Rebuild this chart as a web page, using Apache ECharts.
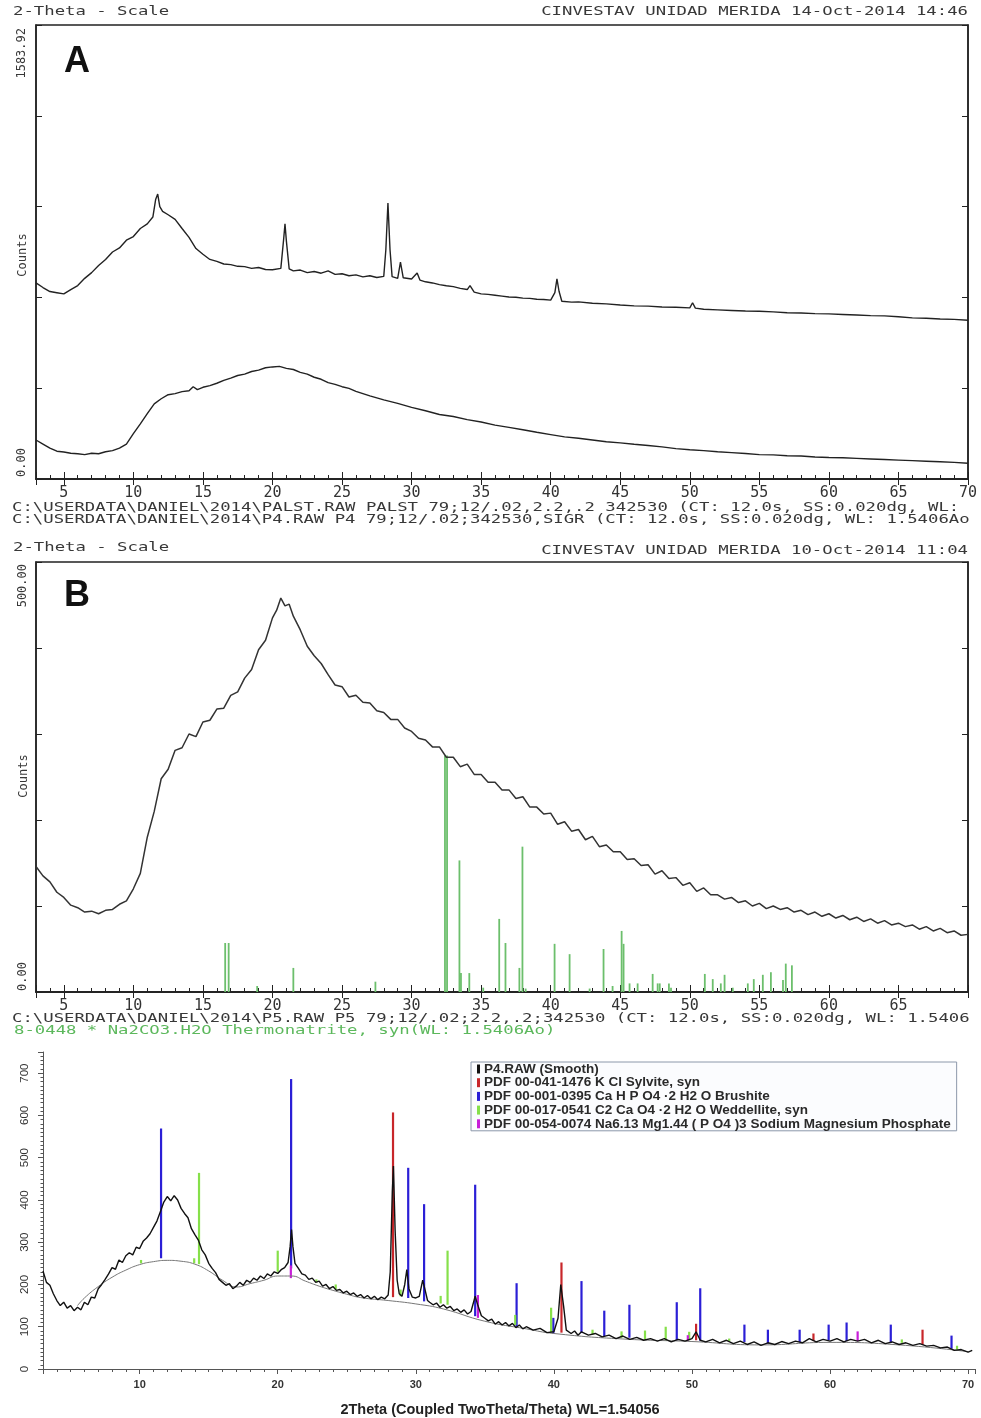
<!DOCTYPE html>
<html>
<head>
<meta charset="utf-8">
<script src="https://cdn.jsdelivr.net/npm/echarts/dist/echarts.min.js"></script>
<style>
  html, body { margin: 0; padding: 0; background: #fff; }
  #chart { width: 981px; height: 1418px; }
</style>
</head>
<body>
<div id="chart"></div>
<script>
// panel A: two raw scans, [2theta, counts]
var palstScan = [[3,684],[3.5,668],[4,654],[4.5,650],[5,646],[5.5,661],[6,675],[6.5,700],[7,720],[7.5,745],[8,766],[8.5,792],[9,806],[9.5,833],[10,846],[10.5,874],[11,890],
  [11.4,914],[11.6,975],[11.75,994],[11.9,950],[12.1,934],[12.5,922],[13,906],[13.5,874],[14,843],[14.5,804],[15,784],[15.5,766],[16,759],[16.5,750],[17,748],[17.5,742],[18,741],[18.5,735],[19,738],[19.5,731],[20,730],
  [20.6,735],[20.8,835],[20.9,890],[21.0,830],[21.2,733],[21.5,726],[22,729],[22.5,720],[23,724],[23.5,718],[24,726],[24.5,714],[25,716],[25.5,709],[26,712],[26.5,705],[27,709],[27.5,703],[28,707],
  [28.15,800],[28.3,963],[28.45,800],[28.6,706],[29,700],[29.2,757],[29.4,702],[30,698],[30.4,719],[30.6,694],[31,688],[31.5,684],[32,678],[32.5,674],[33,671],[33.5,665],[34,661],[34.2,675],
  [34.5,652],[35,646],[35.5,644],[36,641],[36.5,638],[37,635],[37.5,634],[38,631],[38.5,630],[39,627],[39.5,626],[40,624],[40.3,650],[40.45,698],[40.6,655],[40.8,620],[41.5,617],
  [42,618],[43,613],[44,611],[45,607],[46,604],[47,603],[48,600],[49,599],[50,597],[50.2,615],[50.4,596],[51,592],[52,590],[53,588],[54,586],[55,585],[56,583],[57,580],[58,579],[59,577],
  [60,576],[61,574],[62,572],[63,570],[64,569],[65,566],[66,562],[67,561],[68,558],[69,557],[70,554]];

var p4Scan = [[3,136],[3.5,122],[4,108],[4.5,97],[5,94],[5.5,90],[6,88],[6.5,85],[7,90],[7.5,88],[8,95],[8.5,99],[9,108],[9.5,122],[10,158],[10.5,192],[11,228],[11.5,262],[12,280],[12.5,294],[13,298],[13.5,305],[14,308],
  [14.3,322],[14.6,312],[15,320],[15.5,326],[16,334],[16.5,344],[17,352],[17.5,361],[18,366],[18.5,375],[19,380],[19.5,388],[20,391],[20.5,393],[21,386],[21.5,382],[22,372],[22.5,366],[23,355],[23.5,348],[24,336],[24.5,330],[25,322],[25.5,316],[26,306],
  [27,290],[28,276],[29,264],[30,250],[31,238],[32,225],[33,218],[34,207],[35,199],[36,188],[37,180],[38,172],[39,163],[40,155],[41,147],[42,142],[43,136],[44,130],[45,126],[46,121],[47,117],[48,112],[49,106],[50,102],
  [51,99],[52,95],[53,92],[54,89],[55,85],[56,84],[57,81],[58,80],[59,77],[60,75],[61,74],[62,72],[63,70],[64,68],[65,66],[66,64],[67,62],[68,60],[69,58],[70,55]];

// panel B: P5 scan and Thermonatrite reference lines [2theta, counts]
var p5Scan = [[3,146],[3.5,135],[4,128],[4.5,116],[5,110],[5.5,101],[6,98],[6.5,93],[7,94],[7.5,91],[8,95],[8.5,96],[9,102],[9.5,106],[10,120],[10.5,138],[11,180],[11.5,210],[12,248],[12.5,259],[13,281],[13.5,284],[14,300],[14.5,297],[15,314],[15.5,316],[16,329],[16.5,330],[17,345],[17.5,349],[18,365],[18.5,375],[19,398],[19.5,409],[20,435],
  [20.3,444],[20.6,458],[20.9,449],[21.2,451],[21.5,437],[22,421],[22.5,402],[23,391],[23.5,382],[24,369],[24.5,357],[25,355],[25.5,343],[26,345],[26.5,337],[27,336],[27.5,327],[28,325],[28.5,317],[29,317],[29.5,307],[30,303],[30.5,295],[31,293],[31.5,285],[32,285],[32.5,273],[33,273],[33.5,262],[34,265],[34.5,253],[35,253],[35.5,244],[36,244],[36.5,235],[37,235],[37.5,225],[38,227],[38.5,215],[39,215],[39.5,207],[40,208],[40.5,195],[41,198],[41.5,187],[42,189],[42.5,177],[43,181],[43.5,169],[44,171],[44.5,163],[45,163],[45.5,154],[46,155],[46.5,147],[47,148],[47.5,137],[48,141],[48.5,132],[49,133],[49.5,124],[50,127],[50.5,117],[51,121],[51.5,113],
  [52,113],[52.5,108],[53,110],[53.5,104],[54,106],[54.5,100],[55,103],[55.5,97],[56,100],[56.5,96],[57,98],[57.5,93],[58,95],[58.5,90],[59,93],[59.5,88],[60,91],[60.5,86],[61,89],[61.5,84],[62,87],[62.5,82],[63,85],[63.5,80],[64,83],[64.5,78],[65,80],[65.5,76],[66,78],[66.5,73],[67,76],[67.5,71],[68,74],[68.5,69],[69,71],[69.5,66],[70,67]];

var thermonatrite = [[16.6,57],[16.85,57],[18.9,7],[21.5,28],[27.4,12],[32.4,275],[32.55,275],[33.44,153],[33.55,22],[34.15,22],[35.15,5],[36.3,85],[36.75,57],[37.75,28],[37.97,169],[38.2,4],
  [40.28,56],[41.36,44],[42.8,4],[43.8,50],[44.45,7],[45.1,71],[45.24,56],[45.67,10],[46.25,10],[47.33,21],[47.69,10],[47.84,10],[48.5,10],[48.65,5],[51.08,21],[51.65,15],[52.23,10],[52.5,20],[53.09,5],
  [54.17,10],[54.6,15],[55.25,20],[55.83,23],[56.7,14],[56.9,33],[57.34,31]];

// panel C: smoothed P4 scan, fitted background, phase lines [2theta, base, top]
var p4Smooth = [[3,232],[3.25,205],[3.5,198],[3.75,178],[4,162],[4.25,150],[4.5,158],[4.75,144],[5,150],[5.25,138],[5.5,146],[5.75,140],[6,158],[6.25,152],[6.5,170],[6.75,168],[7,190],[7.25,200],[7.5,212],[7.75,225],
  [8,240],[8.25,236],[8.5,258],[8.75,252],[9,268],[9.25,275],[9.5,270],[9.75,288],[10,285],[10.25,302],[10.5,310],[10.75,320],[11,335],[11.25,350],[11.5,372],[11.75,395],[12,408],[12.25,398],[12.5,410],[12.75,400],
  [13,380],[13.25,368],[13.5,358],[13.75,332],[14,318],[14.25,305],[14.5,282],[14.75,270],[15,250],[15.25,238],[15.5,228],[15.75,212],[16,205],[16.25,198],[16.5,202],[16.75,190],[17,196],[17.25,205],[17.5,198],[17.75,210],
  [18,205],[18.25,215],[18.5,210],[18.75,220],[19,214],[19.25,225],[19.5,220],[19.75,230],[20,226],[20.25,235],[20.5,240],[20.75,252],[20.9,290],[21.0,330],[21.1,290],[21.25,250],[21.5,238],[21.75,225],
  [22,222],[22.25,212],[22.5,215],[22.75,205],[23,208],[23.25,196],[23.5,200],[23.75,190],[24,195],[24.25,186],[24.5,188],[24.75,180],[25,184],[25.25,176],[25.5,180],[25.75,172],[26,176],[26.25,168],[26.5,174],[26.75,166],
  [27,172],[27.25,164],[27.5,170],[27.75,166],[28,175],[28.15,230],[28.3,420],[28.38,480],[28.5,330],[28.65,210],[28.8,178],[29,172],[29.2,200],[29.35,235],[29.5,190],[29.75,170],[30,168],[30.25,172],[30.5,210],[30.65,190],[30.85,162],
  [31,158],[31.25,152],[31.5,156],[31.75,146],[32,152],[32.25,144],[32.5,148],[32.75,138],[33,142],[33.25,134],[33.5,140],[33.75,130],[34,136],[34.3,172],[34.5,150],[34.75,126],[35,120],[35.25,114],[35.5,118],[35.75,106],
  [36,112],[36.25,104],[36.5,110],[36.75,102],[37,108],[37.25,98],[37.5,104],[37.75,95],[38,100],[38.5,92],[39,96],[39.5,86],[40,88],[40.3,120],[40.5,200],[40.7,150],[40.9,92],[41.25,84],[41.5,90],[41.75,80],
  [42,88],[42.5,80],[43,84],[43.5,76],[44,80],[44.5,72],[45,78],[45.5,70],[46,75],[46.5,68],[47,72],[47.5,66],[48,72],[48.5,64],[49,70],[49.5,66],[50,72],[50.3,88],[50.6,68],[51,64],[51.5,70],[52,62],[52.5,68],
  [53,60],[53.5,66],[54,58],[54.5,64],[55,56],[55.5,62],[56,58],[56.5,65],[57,60],[57.5,66],[58,62],[58.5,72],[59,64],[59.5,70],[60,66],[60.5,72],[61,64],[61.5,70],[62,66],[62.5,70],[63,62],[63.5,68],
  [64,60],[64.5,64],[65,58],[65.5,62],[66,56],[66.5,60],[67,54],[67.5,56],[68,50],[68.5,52],[69,44],[69.5,46],[70,40],[70.3,44]];

var p4Background = [[5.5,150],[6,168],[7,195],[8,217],[9,234],[10,247],[11,254],[12,257],[13,255],[14,248],[15,232],[16,210],[17,194],[18,202],[19,210],[20,220],[21,220],[22,208],[23,196],[24,186],[25,177],[26,169],[28,162],[30,154],
  [32,142],[35,113],[38,95],[40,84],[45,71],[50,65],[55,57],[60,63],[65,57],[70,41]];

var sylvite = [[28.35,170,607],[40.55,86,252],[50.3,68,107],[58.8,66,84],[66.7,57,93]];
var brushite = [[11.55,262,569],[20.97,238,686],[29.45,168,476],[30.6,160,390],[34.3,125,436],[37.3,100,203],[39.96,84,121],[42.0,85,208],[43.65,78,138],[45.47,74,152],[48.9,68,158],[50.6,67,191],
  [53.8,64,105],[55.5,60,93],[57.8,64,93],[59.9,68,105],[61.2,66,110],[64.4,62,105],[68.8,48,79]];
var weddellite = [[10.1,250,258],[13.95,250,262],[14.3,248,464],[20.0,230,280],[22.8,205,212],[24.2,188,200],[28.9,172,188],[31.8,155,173],[32.3,152,280],[37.2,104,128],[39.8,86,145],[42.8,82,93],
  [44.9,74,89],[46.6,70,91],[48.1,67,100],[49.8,68,88],[52.7,66,72],[65.2,62,70],[69.2,46,55]];
var naMgPhosphate = [[20.95,215,245],[34.5,121,175],[49.7,67,80],[62.0,66,89]];

var legendNames = ['P4.RAW (Smooth)', 'PDF 00-041-1476 K Cl Sylvite, syn', 'PDF 00-001-0395 Ca H P O4 \u00b72 H2 O Brushite',
  'PDF 00-017-0541 C2 Ca O4 \u00b72 H2 O Weddellite, syn', 'PDF 00-054-0074 Na6.13 Mg1.44 ( P O4 )3 Sodium Magnesium Phosphate'];

var chart = echarts.init(document.getElementById('chart'));
var MONO = '"DejaVu Sans Mono", monospace';
var SANS = '"Liberation Sans", Arial, sans-serif';

// vertical stick from value(1) to value(2) at value(0)
function stick(width) {
    return function (params, api) {
        var p0 = api.coord([api.value(0), api.value(1)]);
        var p1 = api.coord([api.value(0), api.value(2)]);
        return {
            type: 'line',
            shape: { x1: p0[0], y1: p0[1], x2: p1[0], y2: p1[1] },
            style: { stroke: api.visual('color'), lineWidth: width }
        };
    };
}

function monoText(str, x, y, align, color) {
    return {
        type: 'text', x: x, y: y, scaleX: 1.33,
        style: { text: str, fill: color || '#383838', font: '13px ' + MONO, align: align || 'left', verticalAlign: 'middle' }
    };
}
function vText(str, x, y, align) {
    return {
        type: 'text', x: x, y: y, rotation: Math.PI / 2,
        style: { text: str, fill: '#383838', font: '12px ' + MONO, align: align, verticalAlign: 'middle' }
    };
}

function frameX(grid, pos, max, labels, showMax) {
    return {
        type: 'value', gridIndex: grid, position: pos, min: 3, max: max, splitNumber: 13,
        axisLine: { lineStyle: { color: '#222', width: 1.5 } },
        axisTick: { inside: true, length: pos === 'bottom' ? 7 : 6, lineStyle: { color: '#222' } },
        minorTick: { show: pos === 'bottom', splitNumber: 5, length: 4, lineStyle: { color: '#222' } },
        splitLine: { show: false },
        axisLabel: { show: labels, showMinLabel: false, showMaxLabel: showMax, margin: 7, fontFamily: MONO, fontSize: 15, color: '#333' }
    };
}
function frameY(grid, pos, max, step) {
    return {
        type: 'value', gridIndex: grid, position: pos, min: 0, max: max, interval: step,
        axisLine: { lineStyle: { color: '#222', width: 1.5 } },
        axisTick: { inside: true, length: 6, lineStyle: { color: '#222' } },
        splitLine: { show: false },
        axisLabel: { show: false }
    };
}

var option = {
    animation: false,
    backgroundColor: '#fff',
    grid: [
        { left: 36, top: 25, width: 932, height: 454, show: true, borderColor: '#222', borderWidth: 1.5 },
        { left: 36, top: 562, width: 932, height: 430, show: true, borderColor: '#222', borderWidth: 1.5 },
        { left: 43, top: 1052, width: 932, height: 320 }
    ],
    xAxis: [
        frameX(0, 'bottom', 70, true, true),
        frameX(0, 'top', 70, false, true),
        frameX(1, 'bottom', 70, true, false),
        frameX(1, 'top', 70, false, false),
        {
            type: 'value', gridIndex: 2, min: 3, max: 70.5, splitNumber: 7,
            name: '2Theta (Coupled TwoTheta/Theta) WL=1.54056', nameLocation: 'middle', nameGap: 33,
            nameTextStyle: { fontFamily: SANS, fontSize: 14.5, fontWeight: 'bold', color: '#222', padding: [0, 18, 0, 0] },
            axisLine: { lineStyle: { color: '#555', width: 1 } },
            axisTick: { length: 5, lineStyle: { color: '#555' } },
            minorTick: { show: true, splitNumber: 10, length: 3, lineStyle: { color: '#555' } },
            splitLine: { show: false },
            axisLabel: { showMinLabel: false, showMaxLabel: false, margin: 10, fontFamily: SANS, fontSize: 11, fontWeight: 'bold', color: '#333' }
        }
    ],
    yAxis: [
        frameY(0, 'left', 1583.92, 316.784),
        frameY(0, 'right', 1583.92, 316.784),
        frameY(1, 'left', 500, 100),
        frameY(1, 'right', 500, 100),
        {
            type: 'value', gridIndex: 2, min: 0, max: 750, interval: 100,
            axisLine: { show: true, lineStyle: { color: '#555', width: 1 } },
            axisTick: { show: true, length: 5, lineStyle: { color: '#555' } },
            minorTick: { show: true, splitNumber: 10, length: 2.5, lineStyle: { color: '#555' } },
            splitLine: { show: false },
            axisLabel: { rotate: 90, showMaxLabel: false, margin: 12, fontFamily: SANS, fontSize: 11.5, color: '#333' }
        }
    ],
    legend: {
        data: legendNames, selectedMode: false, orient: 'vertical', left: 471, top: 1062,
        icon: 'rect', itemWidth: 3, itemHeight: 9, itemGap: -0.3,
        padding: [0, 6, 0, 6], borderColor: '#8c98aa', borderWidth: 1, backgroundColor: '#fbfcfe',
        textStyle: { fontFamily: SANS, fontSize: 13.5, fontWeight: 'bold', color: '#2a2a2a', lineHeight: 12.5, padding: [0, 0, 0, -1] }
    },
    graphic: [
        monoText('2-Theta - Scale', 13, 12),
        monoText('CINVESTAV UNIDAD MERIDA 14-Oct-2014 14:46', 968, 12, 'right'),
        monoText('C:\\USERDATA\\DANIEL\\2014\\PALST.RAW PALST 79;12/.02,2.2,.2 342530 (CT: 12.0s, SS:0.020dg, WL:', 12, 508),
        monoText('C:\\USERDATA\\DANIEL\\2014\\P4.RAW P4 79;12/.02;342530,SIGR (CT: 12.0s, SS:0.020dg, WL: 1.5406Ao', 12, 520),
        vText('1583.92', 22, 28, 'right'),
        vText('0.00', 22, 477, 'left'),
        vText('Counts', 23, 255, 'center'),
        { type: 'text', x: 64, y: 62, style: { text: 'A', font: 'bold 36px ' + SANS, fill: '#111', align: 'left', verticalAlign: 'middle' } },

        monoText('2-Theta - Scale', 13, 548),
        monoText('CINVESTAV UNIDAD MERIDA 10-Oct-2014 11:04', 968, 551, 'right'),
        monoText('C:\\USERDATA\\DANIEL\\2014\\P5.RAW P5 79;12/.02;2.2,.2;342530 (CT: 12.0s, SS:0.020dg, WL: 1.5406', 12, 1019),
        monoText('8-0448 * Na2CO3.H2O Thermonatrite, syn(WL: 1.5406Ao)', 14, 1031, 'left', '#5cb85c'),
        vText('500.00', 23, 564, 'right'),
        vText('0.00', 23, 991, 'left'),
        vText('Counts', 24, 776, 'center'),
        { type: 'text', x: 64, y: 596, style: { text: 'B', font: 'bold 36px ' + SANS, fill: '#111', align: 'left', verticalAlign: 'middle' } }
    ],
    series: [
        { name: 'PALST', type: 'line', xAxisIndex: 0, yAxisIndex: 0, data: palstScan, showSymbol: false, lineStyle: { color: '#222', width: 1.4 } },
        { name: 'P4', type: 'line', xAxisIndex: 0, yAxisIndex: 0, data: p4Scan, showSymbol: false, lineStyle: { color: '#222', width: 1.4 } },

        { name: 'Thermonatrite', type: 'custom', xAxisIndex: 2, yAxisIndex: 2, renderItem: stick(1.8),
          itemStyle: { color: '#6cbf6c' }, encode: { x: 0, y: [1, 2] },
          data: thermonatrite.map(function (d) { return [d[0], 0, d[1]]; }) },
        { name: 'P5', type: 'line', xAxisIndex: 2, yAxisIndex: 2, data: p5Scan, showSymbol: false, lineStyle: { color: '#333', width: 1.5 } },

        { name: 'background', type: 'line', xAxisIndex: 4, yAxisIndex: 4, data: p4Background, smooth: true, showSymbol: false, lineStyle: { color: '#777', width: 1 } },
        { name: legendNames[0], type: 'line', xAxisIndex: 4, yAxisIndex: 4, data: p4Smooth, showSymbol: false, color: '#111', lineStyle: { color: '#111', width: 1.4 } },
        { name: legendNames[1], type: 'custom', xAxisIndex: 4, yAxisIndex: 4, renderItem: stick(2.2), itemStyle: { color: '#c8262a' }, encode: { x: 0, y: [1, 2] }, data: sylvite },
        { name: legendNames[2], type: 'custom', xAxisIndex: 4, yAxisIndex: 4, renderItem: stick(2.2), itemStyle: { color: '#2b1fd6' }, encode: { x: 0, y: [1, 2] }, data: brushite },
        { name: legendNames[3], type: 'custom', xAxisIndex: 4, yAxisIndex: 4, renderItem: stick(2.2), itemStyle: { color: '#86e04a' }, encode: { x: 0, y: [1, 2] }, data: weddellite },
        { name: legendNames[4], type: 'custom', xAxisIndex: 4, yAxisIndex: 4, renderItem: stick(2.2), itemStyle: { color: '#c81ed8' }, encode: { x: 0, y: [1, 2] }, data: naMgPhosphate }
    ]
};
chart.setOption(option);
</script>
</body>
</html>
